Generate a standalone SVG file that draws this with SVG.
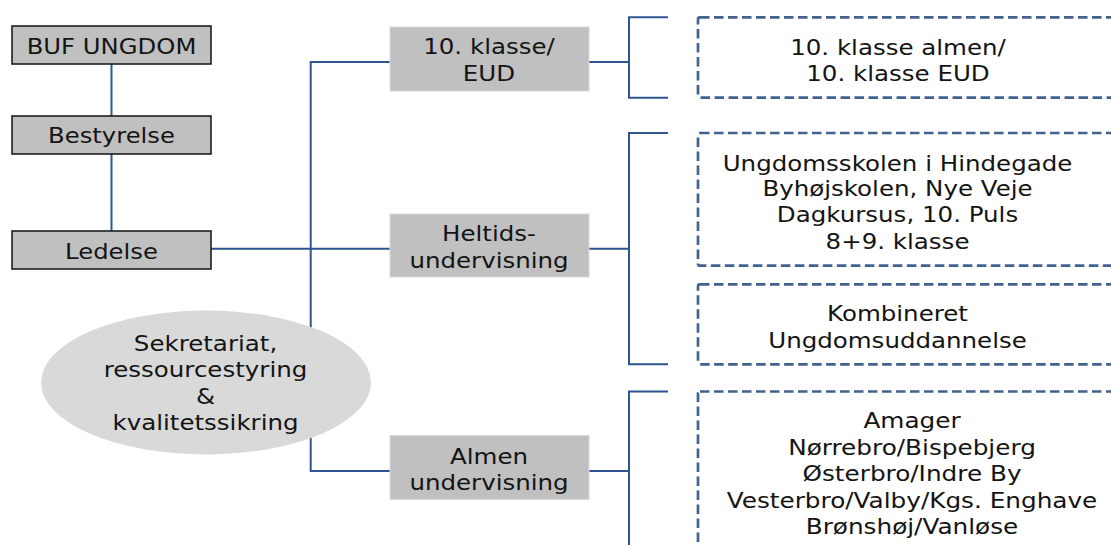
<svg xmlns="http://www.w3.org/2000/svg" width="1111" height="545" viewBox="0 0 1111 545">
<style>
.t{font-family:"DejaVu Sans","Verdana",sans-serif;font-size:21.5px;fill:#141414;text-anchor:middle}
.bx{fill:#c0c0c0;stroke:#1e1e1e;stroke-width:1.6}
.gb{fill:#c0c0c0;stroke:#dadada;stroke-width:1}
.ds{fill:none;stroke:#41618f;stroke-width:2.7;stroke-dasharray:9.5 4.5}
.cn{fill:none;stroke:#2e5590;stroke-width:2}
</style>
<rect width="1111" height="545" fill="#ffffff"/>
<g id="connectors" class="cn">
<line x1="111.5" y1="64" x2="111.5" y2="116"/>
<line x1="111.5" y1="154" x2="111.5" y2="231"/>
<line x1="211" y1="248.7" x2="390" y2="248.7"/>
<polyline points="390,62 310.7,62 310.7,471 390,471"/>
<line x1="589" y1="62" x2="629" y2="62"/>
<polyline points="668,17.3 629,17.3 629,97.7 668,97.7"/>
<line x1="589" y1="248.7" x2="629" y2="248.7"/>
<polyline points="668,133 629,133 629,364.3 668,364.3"/>
<line x1="589" y1="471" x2="629" y2="471"/>
<polyline points="668,391.5 629,391.5 629,550"/>
</g>
<g id="buf-ungdom">
<rect class="bx" x="12" y="26" width="199" height="38"/>
<text class="t" transform="matrix(1.13,0,0,1,111.5,0)" x="0" y="54">BUF UNGDOM</text>
</g>
<g id="bestyrelse">
<rect class="bx" x="12" y="116" width="199" height="38"/>
<text class="t" transform="matrix(1.13,0,0,1,111.5,0)" x="0" y="143.5">Bestyrelse</text>
</g>
<g id="ledelse">
<rect class="bx" x="12" y="231" width="199" height="38"/>
<text class="t" transform="matrix(1.13,0,0,1,111.5,0)" x="0" y="259">Ledelse</text>
</g>
<g id="sekretariat">
<ellipse cx="206" cy="382.5" rx="165" ry="72" fill="#d9d9d9"/>
<text class="t" transform="matrix(1.14,0,0,1,205.5,0)"><tspan x="0" y="351">Sekretariat,</tspan><tspan x="0" y="377.5">ressourcestyring</tspan><tspan x="0" y="404">&amp;</tspan><tspan x="0" y="430.5">kvalitetssikring</tspan></text>
</g>
<g id="klasse-eud">
<rect class="gb" x="390" y="27" width="199" height="64"/>
<text class="t" transform="matrix(1.14,0,0,1,489,0)"><tspan x="0" y="54.5">10. klasse/</tspan><tspan x="0" y="81">EUD</tspan></text>
</g>
<g id="heltids">
<rect class="gb" x="390" y="214" width="199" height="63"/>
<text class="t" transform="matrix(1.14,0,0,1,489,0)"><tspan x="0" y="241.5">Heltids-</tspan><tspan x="0" y="268">undervisning</tspan></text>
</g>
<g id="almen">
<rect class="gb" x="390" y="435.5" width="199" height="64"/>
<text class="t" transform="matrix(1.14,0,0,1,489,0)"><tspan x="0" y="464">Almen</tspan><tspan x="0" y="490">undervisning</tspan></text>
</g>
<g id="box-10klasse">
<rect class="ds" x="698" y="17.3" width="430" height="80.4" rx="2"/>
<text class="t" transform="matrix(1.14,0,0,1,898,0)"><tspan x="0" y="55">10. klasse almen/</tspan><tspan x="0" y="81.5">10. klasse EUD</tspan></text>
</g>
<g id="box-heltid">
<rect class="ds" x="698" y="133" width="430" height="132.7" rx="2"/>
<text class="t" transform="matrix(1.14,0,0,1,897.5,0)"><tspan x="0" y="171.5">Ungdomsskolen i Hindegade</tspan><tspan x="0" y="196.5">Byhøjskolen, Nye Veje</tspan><tspan x="0" y="222.5">Dagkursus, 10. Puls</tspan><tspan x="0" y="249">8+9. klasse</tspan></text>
</g>
<g id="box-kombineret">
<rect class="ds" x="698" y="284.3" width="430" height="80" rx="2"/>
<text class="t" transform="matrix(1.14,0,0,1,897.5,0)"><tspan x="0" y="321.5">Kombineret</tspan><tspan x="0" y="348">Ungdomsuddannelse</tspan></text>
</g>
<g id="box-almen">
<rect class="ds" x="698" y="391.5" width="430" height="180" rx="2"/>
<text class="t" transform="matrix(1.15,0,0,1,912,0)"><tspan x="0" y="428.5">Amager</tspan><tspan x="0" y="455">Nørrebro/Bispebjerg</tspan><tspan x="0" y="481.5">Østerbro/Indre By</tspan><tspan x="0" y="508">Vesterbro/Valby/Kgs. Enghave</tspan><tspan x="0" y="534.5">Brønshøj/Vanløse</tspan></text>
</g>
</svg>
